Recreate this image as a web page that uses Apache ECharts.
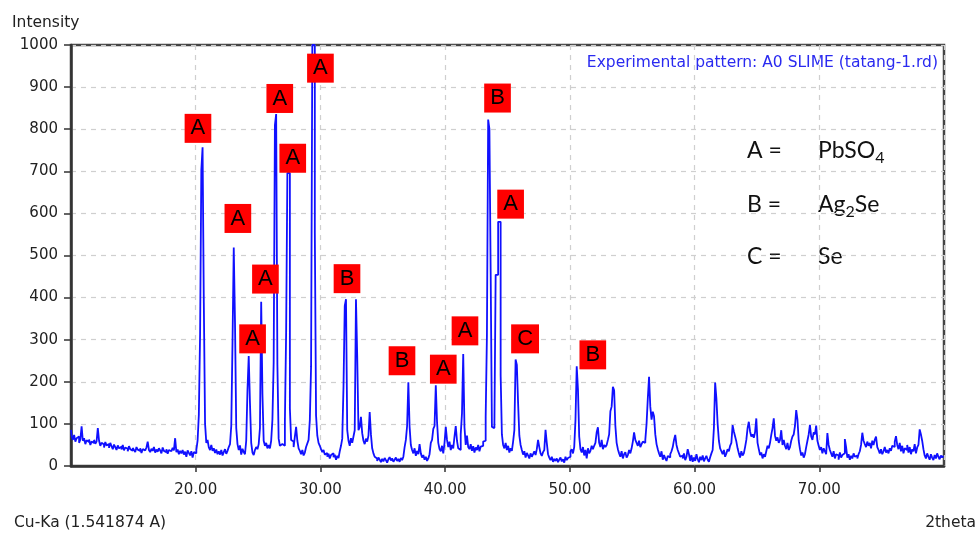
<!DOCTYPE html>
<html>
<head>
<meta charset="utf-8">
<script src="https://cdn.jsdelivr.net/npm/echarts@6/dist/echarts.min.js"></script>
<style>
  html, body { margin: 0; padding: 0; background: #ffffff; }
  #chart { width: 980px; height: 534px; }
</style>
</head>
<body>
<div id="chart"></div>
<script>
// Scan settings (degrees 2theta): first angle and step of the intensity record
const twoThetaStart = 10;
const twoThetaStep = 0.1;

// Counts, one row per degree (x.0 ... x.9), from 10.0 to 80.0
const intensity = [
  86, 72, 62, 74, 58, 66, 70, 55, 63, 94,          // 10
  60, 66, 52, 61, 57, 63, 50, 58, 55, 62,          // 11
  53, 58, 90, 60, 48, 55, 51, 44, 57, 49,          // 12
  52, 43, 55, 47, 40, 51, 45, 38, 49, 42,          // 13
  46, 39, 50, 37, 44, 41, 35, 47, 40, 36,          // 14
  43, 38, 33, 45, 39, 36, 42, 31, 40, 37,          // 15
  35, 44, 58, 38, 33, 41, 36, 45, 32, 39,          // 16
  34, 42, 37, 30, 44, 36, 33, 40, 29, 38,          // 17
  35, 31, 43, 37, 66, 33, 39, 28, 36, 30,          // 18
  38, 27, 34, 22, 37, 31, 25, 35, 20, 33,          // 19
  30, 38, 60, 121, 311, 703, 757, 387, 100, 55,    // 20
  62, 44, 38, 50, 36, 42, 31, 39, 28, 35,          // 21
  27, 38, 25, 33, 40, 29, 36, 45, 52, 95,          // 22
  292, 519, 340, 90, 52, 38, 49, 27, 41, 33,       // 23
  28, 60, 180, 261, 150, 55, 32, 26, 38, 45,       // 24
  40, 52, 90, 390, 171, 60, 48, 55, 42, 50,        // 25
  42, 60, 110, 245, 810, 836, 240, 65, 48, 52,     // 26
  50, 48, 105, 317, 696, 696, 137, 62, 58, 45,     // 27
  70, 93, 60, 42, 36, 28, 38, 25, 32, 45,          // 28
  46, 62, 109, 236, 1000, 1000, 556, 120, 72, 55,  // 29
  48, 40, 33, 38, 27, 31, 22, 29, 18, 26,          // 30
  30, 21, 27, 15, 24, 19, 35, 48, 65, 188,         // 31
  380, 396, 85, 60, 48, 66, 55, 70, 85, 396,       // 32
  261, 85, 92, 117, 78, 60, 52, 65, 58, 72,        // 33
  128, 75, 42, 30, 22, 18, 12, 20, 15, 9,          // 34
  17, 11, 19, 14, 8, 16, 21, 13, 18, 10,           // 35
  15, 20, 12, 17, 10, 19, 14, 22, 45, 62,          // 36
  95, 199, 93, 50, 38, 30, 42, 24, 36, 28,         // 37
  52, 30, 20, 26, 15, 22, 12, 18, 28, 55,          // 38
  62, 88, 95, 192, 105, 55, 40, 35, 48, 30,        // 39
  55, 93, 62, 45, 58, 38, 50, 42, 70, 95,          // 40
  60, 42, 38, 75, 125, 266, 92, 50, 72, 45,        // 41
  40, 52, 36, 47, 32, 44, 38, 50, 35, 46,          // 42
  48, 58, 60, 117, 310, 823, 800, 461, 93, 90,     // 43
  100, 454, 454, 580, 580, 216, 75, 50, 42, 55,    // 44
  38, 48, 32, 42, 36, 58, 85, 253, 240, 149,       // 45
  72, 50, 38, 27, 35, 20, 31, 25, 18, 30,          // 46
  22, 28, 35, 26, 40, 62, 45, 30, 24, 33,          // 47
  38, 86, 55, 28, 20, 14, 22, 10, 17, 12,          // 48
  18, 9, 15, 20, 11, 16, 8, 22, 14, 19,            // 49
  22, 35, 40, 30, 45, 109, 237, 182, 70, 40,       // 50
  32, 45, 25, 38, 18, 42, 30, 36, 48, 40,          // 51
  48, 55, 80, 92, 55, 45, 62, 40, 50, 45,          // 52
  50, 62, 75, 130, 141, 188, 180, 95, 55, 40,      // 53
  30, 22, 35, 18, 28, 33, 20, 26, 38, 30,          // 54
  42, 58, 80, 62, 55, 48, 60, 45, 52, 58,          // 55
  55, 62, 100, 160, 212, 141, 110, 129, 118, 75,   // 56
  52, 40, 30, 22, 35, 15, 26, 18, 12, 24,          // 57
  20, 28, 35, 45, 62, 74, 50, 38, 30, 22,          // 58
  25, 18, 30, 14, 22, 40, 28, 12, 26, 10,          // 59
  20, 12, 28, 16, 9, 22, 14, 25, 11, 18,           // 60
  24, 15, 10, 21, 30, 38, 90, 198, 160, 100,       // 61
  60, 42, 35, 28, 38, 22, 30, 40, 35, 48,          // 62
  55, 97, 82, 70, 58, 42, 30, 20, 35, 25,          // 63
  30, 45, 62, 90, 105, 82, 70, 75, 67, 80,         // 64
  113, 55, 40, 26, 32, 18, 28, 22, 35, 48,         // 65
  42, 55, 74, 90, 113, 72, 60, 68, 55, 62,         // 66
  85, 50, 62, 48, 40, 55, 38, 45, 60, 70,          // 67
  75, 95, 133, 110, 60, 40, 25, 32, 20, 28,        // 68
  45, 60, 75, 98, 70, 62, 80, 75, 96, 60,          // 69
  48, 38, 45, 30, 42, 35, 28, 78, 50, 38,          // 70
  30, 22, 35, 18, 28, 25, 15, 32, 20, 26,          // 71
  30, 64, 45, 20, 28, 15, 24, 18, 30, 22,          // 72
  25, 18, 28, 35, 50, 79, 60, 52, 45, 58,          // 73
  48, 55, 42, 60, 50, 62, 70, 45, 38, 30,          // 74
  40, 28, 35, 45, 32, 38, 30, 42, 36, 48,          // 75
  45, 58, 71, 50, 40, 55, 35, 48, 30, 42,          // 76
  38, 50, 32, 45, 28, 40, 35, 52, 30, 44,          // 77
  50, 87, 75, 60, 40, 25, 18, 30, 22, 15,          // 78
  28, 20, 14, 26, 18, 30, 22, 16, 25, 20,          // 79
  24                                               // 80
];

// Phase markers: letter and where its tag sits (2theta, intensity)
const markerLetters = ['A', 'A', 'A', 'A', 'A', 'A', 'A', 'B', 'B', 'A', 'A', 'B', 'A', 'C', 'B'];
const markerTheta   = [20.18, 23.38, 24.56, 25.59, 26.74, 27.78, 30.0, 32.13, 36.54, 39.85, 41.59, 44.2, 45.25, 46.41, 51.84];
const markerCounts  = [802, 588, 302, 444, 873, 731, 945, 445, 250, 230, 321, 874, 622, 302, 264];

// Phase key
const phaseKeys  = ['A =', 'B =', 'C ='];
const phaseNames = ['{n|PbSO}{s|4}', '{n|Ag}{s|2}{n|Se}', '{n|Se}'];

// Axis ranges
const thetaMin = 10, thetaMax = 80, thetaInterval = 10;
const countMin = 0, countMax = 1000, countInterval = 100;

const pattern = intensity.map((v, i) =>
  [Number((twoThetaStart + i * twoThetaStep).toFixed(2)), v]);
const markers = markerLetters.map((l, i) => [markerTheta[i], markerCounts[i], l]);

const axisFont = 'DejaVu Sans';
const chart = echarts.init(document.getElementById('chart'), null, { renderer: 'canvas' });

const keyGraphics = [];
const keyRows = [151, 205, 257];
phaseKeys.forEach((k, i) => {
  keyGraphics.push({
    type: 'text', x: 747, y: keyRows[i], silent: true,
    style: { text: k, fill: '#111', font: '23px Lato', verticalAlign: 'middle', align: 'left' }
  });
  keyGraphics.push({
    type: 'text', x: 818, y: keyRows[i], silent: true,
    style: {
      text: phaseNames[i], verticalAlign: 'middle', align: 'left',
      rich: {
        n: { fontSize: 23, fontFamily: 'Lato', fill: '#111', color: '#111' },
        s: { fontSize: 16, fontFamily: 'Lato', fill: '#111', color: '#111', padding: [14, 0, 0, 0] }
      }
    }
  });
});

chart.setOption({
  animation: false,
  backgroundColor: '#ffffff',
  grid: {
    left: 71, right: 36, top: 45, bottom: 68,
    show: true, borderColor: '#444444', borderWidth: 2.5, backgroundColor: 'transparent'
  },
  xAxis: {
    type: 'value', min: thetaMin, max: thetaMax, interval: thetaInterval,
    axisLine: { show: true, onZero: false, lineStyle: { color: '#333', width: 2.5 } },
    axisTick: { show: true, inside: false, length: 6, lineStyle: { color: '#333', width: 1.5 } },
    axisLabel: {
      show: true, margin: 17, color: '#222', fontFamily: axisFont, fontSize: 15,
      showMinLabel: false, showMaxLabel: false,
      formatter: v => v.toFixed(2)
    },
    splitLine: { show: true, lineStyle: { color: '#cfcfcf', width: 1.2, type: [5, 5] } }
  },
  yAxis: {
    type: 'value', min: countMin, max: countMax, interval: countInterval,
    axisLine: { show: true, lineStyle: { color: '#333', width: 2.5 } },
    axisTick: { show: true, inside: false, length: 7, lineStyle: { color: '#333', width: 1.5 } },
    axisLabel: { show: true, margin: 13, color: '#222', fontFamily: axisFont, fontSize: 15,
                 formatter: v => String(v) },
    splitLine: { show: true, lineStyle: { color: '#cfcfcf', width: 1.2, type: [5, 5] } }
  },
  series: [
    {
      type: 'line', data: pattern, step: 'middle', symbol: 'none', clip: true,
      lineStyle: { color: '#1010ff', width: 1.8 }, z: 3, silent: true
    },
    {
      type: 'scatter', data: markers, symbolSize: 1, z: 5, silent: true,
      itemStyle: { color: 'rgba(0,0,0,0)', opacity: 1 },
      label: {
        show: true, position: 'inside', formatter: p => p.data[2],
        backgroundColor: '#ff0000', color: '#000000', fontFamily: 'Liberation Sans',
        fontSize: 22, lineHeight: 24, padding: [3, 6, 2, 6],
        textBorderWidth: 0, textBorderColor: 'transparent', opacity: 1
      }
    }
  ],
  graphic: [
    { type: 'text', x: 12, y: 23, silent: true,
      style: { text: 'Intensity', fill: '#222', font: '15.5px "DejaVu Sans"', verticalAlign: 'middle' } },
    { type: 'text', x: 14, y: 523, silent: true,
      style: { text: 'Cu-Ka (1.541874 A)', fill: '#222', font: '15.5px "DejaVu Sans"', verticalAlign: 'middle' } },
    { type: 'text', x: 976, y: 523, silent: true,
      style: { text: '2theta', fill: '#222', font: '15.5px "DejaVu Sans"', verticalAlign: 'middle', align: 'right' } },
    { type: 'text', x: 938, y: 63, silent: true,
      style: { text: 'Experimental pattern: A0 SLIME (tatang-1.rd)', fill: '#2a2af0',
               font: '15.5px "DejaVu Sans"', verticalAlign: 'middle', align: 'right' } }
  ].concat(keyGraphics)
});
</script>
</body>
</html>
